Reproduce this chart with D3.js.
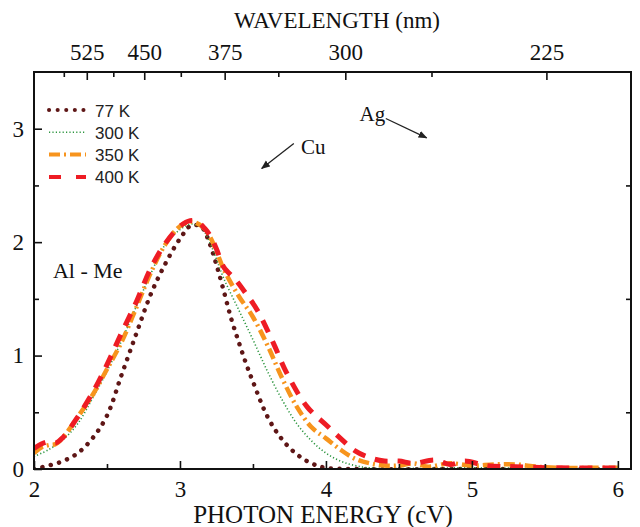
<!DOCTYPE html>
<html>
<head>
<meta charset="utf-8">
<script src="https://cdn.jsdelivr.net/npm/d3@7/dist/d3.min.js"></script>
<style>
  body { margin: 0; background: #fff; }
  svg { display: block; }
  .serif { font-family: "Liberation Serif", "Times New Roman", serif; }
  .sans { font-family: "Liberation Sans", Arial, sans-serif; }
</style>
</head>
<body>
<div id="chart"></div>
<script>
// photon energy (eV) and absorbance
var e77  = [2.0,2.1,2.2,2.3,2.4,2.5,2.6,2.7,2.8,2.9,3.0,3.08,3.15,3.2,3.25,3.3,3.35,3.4,3.45,3.5,3.6,3.7,3.8,3.9,4.0,4.2,5.0,6.0];
var v77  = [0.0,0.03,0.07,0.14,0.27,0.47,0.83,1.19,1.54,1.81,2.03,2.15,2.13,2.0,1.8,1.57,1.33,1.13,0.94,0.77,0.46,0.26,0.13,0.05,0.01,0,0,0];

var e300 = [2.0,2.1,2.2,2.3,2.4,2.5,2.6,2.7,2.8,2.9,3.0,3.08,3.15,3.2,3.25,3.3,3.4,3.5,3.6,3.7,3.8,3.9,4.0,4.1,4.2,4.3,5.0,6.0];
var v300 = [0.11,0.17,0.26,0.4,0.62,0.86,1.13,1.43,1.72,1.98,2.11,2.16,2.12,2.01,1.85,1.68,1.41,1.14,0.86,0.61,0.4,0.25,0.14,0.07,0.03,0.01,0.01,0];

var e350 = [2.0,2.05,2.1,2.15,2.2,2.3,2.4,2.5,2.6,2.7,2.8,2.9,3.0,3.08,3.15,3.2,3.25,3.3,3.4,3.5,3.6,3.7,3.8,3.9,4.0,4.1,4.2,4.3,4.4,4.5,4.6,4.7,4.85,5.0,5.15,5.3,5.45,5.6,5.8,6.0];
var v350 = [0.14,0.19,0.21,0.22,0.28,0.46,0.65,0.88,1.12,1.42,1.73,1.98,2.14,2.18,2.14,2.06,1.92,1.76,1.53,1.34,1.09,0.8,0.55,0.37,0.27,0.17,0.09,0.05,0.03,0.03,0.05,0.02,0.05,0.03,0.04,0.04,0.02,0.01,0.01,0.01];

var e400 = [2.0,2.05,2.1,2.15,2.2,2.3,2.4,2.5,2.6,2.7,2.8,2.9,3.0,3.07,3.12,3.17,3.21,3.25,3.3,3.38,3.45,3.53,3.64,3.73,3.87,4.0,4.1,4.2,4.3,4.4,4.5,4.6,4.75,4.85,4.95,5.1,5.3,5.6,6.0];
var v400 = [0.18,0.22,0.24,0.23,0.28,0.46,0.67,0.92,1.2,1.47,1.77,1.99,2.14,2.19,2.18,2.12,2.05,1.94,1.78,1.67,1.55,1.4,1.11,0.85,0.55,0.39,0.27,0.16,0.1,0.07,0.07,0.05,0.08,0.04,0.07,0.03,0.02,0.01,0.01];

var seriesNames = ["77 K", "300 K", "350 K", "400 K"];
var energyTicks = [2, 3, 4, 5, 6];
var energyMinor = [2.5, 3.5, 4.5, 5.5];
var yTicks = [0, 1, 2, 3];
var yMinor = [0.5, 1.5, 2.5];
var waveTicks = [525, 450, 375, 300, 225];
var waveMinor = [562.5, 487.5, 412.5, 337.5, 262.5];

var W = 640, H = 527;
var pL = 34, pR = 631, pT = 72, pB = 469;

var x = d3.scaleLinear().domain([2, 6.09]).range([pL, pR]);
var y = d3.scaleLinear().domain([0, 3.5]).range([pB, pT]);
var toE = function(nm) { return 1239.84 / nm; };

var styles = [
  {color: "#5e1616", width: 4.5, dash: "0.1,8.5", cap: "round"},
  {color: "#2e9640", width: 1.6, dash: "1.2,2.2", cap: "butt"},
  {color: "#f7941d", width: 4.5, dash: "11,4,2,4", cap: "butt"},
  {color: "#ee1c24", width: 5, dash: "13,10", cap: "butt"}
];

var series = [
  {name: seriesNames[0], pts: d3.zip(e77, v77)},
  {name: seriesNames[1], pts: d3.zip(e300, v300)},
  {name: seriesNames[2], pts: d3.zip(e350, v350)},
  {name: seriesNames[3], pts: d3.zip(e400, v400)}
];

var svg = d3.select("#chart").append("svg")
    .attr("width", W)
    .attr("height", H);

svg.append("rect").attr("width", W).attr("height", H).attr("fill", "#fff");

var line = d3.line()
    .x(function(d) { return x(d[0]); })
    .y(function(d) { return y(d[1]); })
    .curve(d3.curveCatmullRom.alpha(0.5));

var defs = svg.append("defs");
defs.append("clipPath").attr("id", "clip")
  .append("rect").attr("x", pL).attr("y", pT).attr("width", pR - pL).attr("height", pB - pT);

svg.append("g").attr("clip-path", "url(#clip)")
  .selectAll("path")
  .data(series)
  .enter().append("path")
    .attr("d", function(d) { return line(d.pts); })
    .attr("fill", "none")
    .attr("stroke", function(d, i) { return styles[i].color; })
    .attr("stroke-width", function(d, i) { return styles[i].width; })
    .attr("stroke-dasharray", function(d, i) { return styles[i].dash; })
    .attr("stroke-linecap", function(d, i) { return styles[i].cap; });

// axes, ticks pointing inward
function styleAxis(g) {
  g.select(".domain").remove();
  g.selectAll(".tick line").attr("stroke", "#111").attr("stroke-width", 1.6);
  g.selectAll(".tick text").attr("class", "serif").style("font-size", "23px").attr("fill", "#111");
}

svg.append("g")
    .attr("transform", "translate(0," + pB + ")")
    .call(d3.axisBottom(x).tickValues(energyTicks).tickSize(-8).tickPadding(12).tickFormat(d3.format("d")))
    .call(styleAxis);
svg.append("g")
    .attr("transform", "translate(0," + pB + ")")
    .call(d3.axisBottom(x).tickValues(energyMinor).tickSize(-5).tickFormat(""))
    .call(styleAxis);

svg.append("g")
    .attr("transform", "translate(0," + pT + ")")
    .call(d3.axisTop(x).tickValues(waveTicks.map(toE)).tickSize(-8).tickPadding(12)
      .tickFormat(function(e) { return Math.round(1239.84 / e); }))
    .call(styleAxis);
svg.append("g")
    .attr("transform", "translate(0," + pT + ")")
    .call(d3.axisTop(x).tickValues(waveMinor.map(toE)).tickSize(-5).tickFormat(""))
    .call(styleAxis);

svg.append("g")
    .attr("transform", "translate(" + pL + ",0)")
    .call(d3.axisLeft(y).tickValues(yTicks).tickSize(-8).tickPadding(10).tickFormat(d3.format("d")))
    .call(styleAxis);
svg.append("g")
    .attr("transform", "translate(" + pL + ",0)")
    .call(d3.axisLeft(y).tickValues(yMinor).tickSize(-5).tickFormat(""))
    .call(styleAxis);
svg.append("g")
    .attr("transform", "translate(" + pR + ",0)")
    .call(d3.axisRight(y).tickValues(yMinor).tickSize(-5).tickFormat(""))
    .call(styleAxis);

svg.append("rect")
    .attr("x", pL).attr("y", pT)
    .attr("width", pR - pL).attr("height", pB - pT)
    .attr("fill", "none").attr("stroke", "#111").attr("stroke-width", 2);

// axis titles
svg.append("text").attr("class", "serif")
    .attr("x", 337).attr("y", 28).attr("text-anchor", "middle")
    .style("font-size", "23px").attr("fill", "#111")
    .text("WAVELENGTH (nm)");
svg.append("text").attr("class", "serif")
    .attr("x", 323).attr("y", 523).attr("text-anchor", "middle")
    .style("font-size", "25px").attr("fill", "#111")
    .text("PHOTON ENERGY (cV)");

// legend
var legend = svg.append("g");
var rows = legend.selectAll("g").data(series).enter().append("g")
    .attr("transform", function(d, i) { return "translate(49," + (110 + i * 22.3) + ")"; });
rows.append("line")
    .attr("x1", 0).attr("x2", 37)
    .attr("stroke", function(d, i) { return styles[i].color; })
    .attr("stroke-width", function(d, i) { return Math.min(styles[i].width, 4); })
    .attr("stroke-dasharray", function(d, i) { return i == 3 ? "12,15" : styles[i].dash; })
    .attr("stroke-linecap", function(d, i) { return styles[i].cap; });
rows.append("text").attr("class", "sans")
    .attr("x", 46).attr("y", 6.5)
    .style("font-size", "17px").attr("fill", "#222")
    .text(function(d) { return d.name; });

// annotations
defs.append("marker")
    .attr("id", "arrow").attr("viewBox", "0 0 10 10")
    .attr("refX", 9).attr("refY", 5)
    .attr("markerWidth", 9).attr("markerHeight", 9)
    .attr("markerUnits", "userSpaceOnUse")
    .attr("orient", "auto")
  .append("path").attr("d", "M0,1 L10,5 L0,9 Z").attr("fill", "#222");

svg.append("line")
    .attr("x1", x(3.78)).attr("y1", y(2.87)).attr("x2", x(3.56)).attr("y2", y(2.65))
    .attr("stroke", "#222").attr("stroke-width", 1.3).attr("marker-end", "url(#arrow)");
svg.append("text").attr("class", "serif")
    .attr("x", x(3.83)).attr("y", y(2.78))
    .style("font-size", "21px").attr("fill", "#111").text("Cu");

svg.append("line")
    .attr("x1", x(4.41)).attr("y1", y(3.09)).attr("x2", x(4.69)).attr("y2", y(2.92))
    .attr("stroke", "#222").attr("stroke-width", 1.3).attr("marker-end", "url(#arrow)");
svg.append("text").attr("class", "serif")
    .attr("x", x(4.23)).attr("y", y(3.07))
    .style("font-size", "21px").attr("fill", "#111").text("Ag");

svg.append("text").attr("class", "serif")
    .attr("x", x(2.13)).attr("y", y(1.68))
    .style("font-size", "22px").attr("fill", "#111").text("Al - Me");
</script>
</body>
</html>
